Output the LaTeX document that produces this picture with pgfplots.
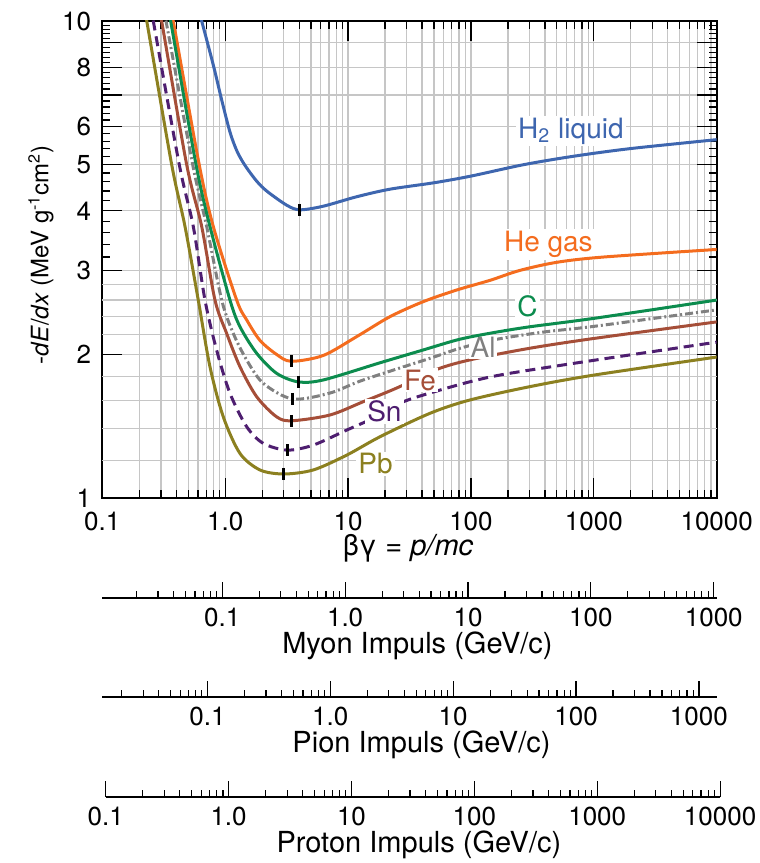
\documentclass[border=0pt]{standalone}
\usepackage{fontspec}
\setmainfont{TeX Gyre Heros}
\usepackage{pgfplots}
\pgfplotsset{compat=1.18}

\definecolor{hblue}{RGB}{62,102,175}
\definecolor{heorange}{RGB}{244,108,30}
\definecolor{cgreen}{RGB}{12,140,78}
\definecolor{algray}{RGB}{128,128,128}
\definecolor{febrown}{RGB}{165,78,56}
\definecolor{snpurple}{RGB}{78,30,112}
\definecolor{pbolive}{RGB}{140,128,32}
\definecolor{gridgray}{RGB}{198,198,198}

\newcommand{\tickfont}{\fontsize{13}{13}\selectfont}
\newcommand{\labfont}{\fontsize{14.5}{14.5}\selectfont}
\newcommand{\curvefont}{\fontsize{14}{14}\selectfont}

\tikzset{clabel/.style={anchor=base west, fill=white, inner sep=1pt, font=\curvefont}}
\pgfplotsset{
  logminor/.style={minor xtick={0.02,0.03,0.04,0.05,0.06,0.07,0.08,0.09,
     0.2,0.3,0.4,0.5,0.6,0.7,0.8,0.9,2,3,4,5,6,7,8,9,
     20,30,40,50,60,70,80,90,200,300,400,500,600,700,800,900,
     2000,3000,4000,5000,6000,7000,8000,9000}},
  curve/.style={line width=1.5pt, smooth},
}

\begin{document}
\begin{tikzpicture}
\begin{axis}[
  at={(0,0)}, anchor=south west,
  scale only axis, width=307.2pt, height=238.5pt,
  xmode=log, ymode=log,
  xmin=0.1, xmax=10000, ymin=1, ymax=10,
  xtick={0.1,1,10,100,1000,10000},
  xticklabels={0.1,1.0,10,100,1000,10000},
  logminor,
  ytick={1,2,3,4,5,6,7,8,9,10},
  yticklabels={1,2,3,4,5,6,,8,,10},
  minor ytick={1.2,1.4,1.6,1.8,2.2,2.4,2.6,2.8,3.2,3.4,3.6,3.8,4.2,4.4,4.6,4.8,
     5.2,5.4,5.6,5.8,6.2,6.4,6.6,6.8,7.2,7.4,7.6,7.8,8.2,8.4,8.6,8.8,9.2,9.4,9.6,9.8},
  extra y ticks={1.2,1.4,1.6,1.8,2.2,2.4,2.6,2.8},
  extra y tick labels={},
  extra y tick style={grid=major, major tick length=0pt},
  xmajorgrids, xminorgrids, ymajorgrids,
  major grid style={gridgray, line width=0.6pt},
  minor grid style={gridgray, line width=0.6pt},
  axis line style={black, line width=0.8pt},
  tick style={black, line width=0.6pt},
  major tick length=10pt, minor tick length=4pt,
  xticklabel style={font=\tickfont, anchor=center, yshift=-11.5pt},
  yticklabel style={font=\tickfont, xshift=-2.1pt},
  xlabel={βγ = \textit{p/mc}},
  ylabel={-\textit{dE}/\textit{dx} (MeV g\textsuperscript{-1}cm\textsuperscript{2})},
  xlabel style={font=\labfont, at={(axis description cs:0.4976,-0.1048)}, anchor=center},
  ylabel style={font=\fontsize{12}{12}\selectfont, at={(axis description cs:-0.0998,0.51)}, anchor=center},
]
% labels that sit beside their curves (curves drawn over them)
\node[clabel, text=hblue] at (axis cs:232,5.68) {H\textsubscript{2} liquid};
\node[clabel, text=heorange] at (axis cs:178,3.284) {He gas};
\node[clabel, text=cgreen] at (axis cs:228,2.399) {C};

% H2 liquid
\addplot[curve, hblue] coordinates {
 (0.62,10.4) (0.644,10) (0.8,8.09) (0.937,6.83) (1.094,5.85) (1.25,5.33) (1.45,4.98)
 (1.8,4.62) (2.18,4.40) (3.17,4.11) (4.05,4.02) (6.28,4.09) (11.7,4.28) (21.9,4.44)
 (50,4.58) (100,4.73) (250,4.98) (500,5.14) (1000,5.28) (2228,5.42) (10000,5.64)};
% He gas
\addplot[curve, heorange] coordinates {
 (0.36,10.6) (0.378,10) (0.61,5.05) (0.8,3.71) (1.24,2.6) (1.5,2.36) (1.92,2.14)
 (2.62,2.0) (3.45,1.935) (6.28,1.99) (11.7,2.178) (21.9,2.399) (40.9,2.58)
 (76.5,2.729) (143,2.86) (250,3.0) (500,3.12) (1191,3.2) (10000,3.32)};
% Al
\addplot[curve, algray, dash pattern=on 4pt off 1.5pt on 1pt off 1.5pt] coordinates {
 (0.315,10.6) (0.33,10) (0.544,5.0) (0.707,3.71) (0.937,2.6) (1.164,2.214)
 (1.496,1.947) (2.04,1.74) (3.54,1.613) (7.13,1.66) (13.3,1.768) (46.4,1.963)
 (81.3,2.06) (160,2.15) (400,2.23) (1000,2.29) (10000,2.48)};
% Fe
\addplot[curve, febrown] coordinates {
 (0.29,10.6) (0.304,10) (0.486,5.0) (0.644,3.71) (0.826,2.6) (1.028,2.214)
 (1.32,1.885) (1.804,1.631) (2.62,1.48) (3.48,1.452) (7.13,1.493) (13.3,1.592)
 (24.8,1.70) (52.6,1.86) (100,1.95) (300,2.06) (1000,2.16) (10000,2.34)};
% Sn
\addplot[curve, snpurple, dash pattern=on 5pt off 3pt] coordinates {
 (0.25,10.6) (0.26,10) (0.423,5.0) (0.55,3.71) (0.685,2.6) (0.853,2.04)
 (1.094,1.658) (1.496,1.411) (2.04,1.302) (3.2,1.26) (5.21,1.291) (9.75,1.388)
 (18,1.49) (28,1.59) (46.4,1.66) (100,1.755) (200,1.823) (1000,1.944) (10000,2.122)};
% Pb
\addplot[curve, pbolive] coordinates {
 (0.22,10.6) (0.23,10) (0.367,5.0) (0.471,3.71) (0.604,2.6) (0.752,1.885)
 (0.965,1.48) (1.32,1.24) (1.92,1.145) (3.0,1.123) (5.21,1.145) (9.75,1.23)
 (18.2,1.344) (46.4,1.505) (98,1.605) (302,1.712) (1000,1.81) (10000,1.975)};

% labels that break their curves
\node[clabel, text=algray] at (axis cs:95,1.972) {Al};
\node[clabel, text=febrown] at (axis cs:27.3,1.684) {Fe};
\node[clabel, text=snpurple] at (axis cs:13.7,1.446) {Sn};
\node[clabel, text=pbolive] at (axis cs:11.6,1.123) {Pb};

% C (drawn after the Al label, which sits just below it)
\addplot[curve, cgreen] coordinates {
 (0.345,10.6) (0.36,10) (0.579,5.0) (0.752,3.71) (1.094,2.6) (1.32,2.286)
 (1.804,2.011) (2.62,1.826) (3.93,1.752) (6.28,1.768) (18.2,1.921) (40,2.04)
 (80,2.15) (150,2.22) (300,2.285) (1000,2.38) (10000,2.6)};

% minima markers
\addplot[only marks, mark=|, mark size=3pt, mark options={black, line width=1.6pt}]
 coordinates {(4.05,4.02) (3.45,1.935) (3.93,1.752) (3.54,1.613) (3.48,1.452) (3.2,1.26) (3.0,1.123)};
\end{axis}

% momentum scales below
\begin{axis}[at={(0pt,-50pt)}, anchor=south west,
  scale only axis, width=307.2pt, height=1pt,
  xmode=log, xmin=0.010566, xmax=1056.6, ymin=0, ymax=1,
  axis x line*=bottom, axis y line=none,
  axis line style={-, black, line width=0.8pt},
  tick align=inside, major tick length=8pt, minor tick length=3.5pt,
  tick style={black, line width=0.6pt},
  xtick={0.1,1,10,100,1000}, xticklabels={0.1,1.0,10,100,1000}, logminor,
  xticklabel style={font=\tickfont, anchor=center, yshift=-9.5pt},
  xlabel={Myon Impuls (GeV/c)},
  xlabel style={font=\labfont, at={(axis description cs:0.5,0)}, anchor=center, yshift=-24pt, xshift=4pt}]
\addplot[draw=none] coordinates {(1,0.5)};
\end{axis}

\begin{axis}[at={(0pt,-99.5pt)}, anchor=south west,
  scale only axis, width=307.2pt, height=1pt,
  xmode=log, xmin=0.013957, xmax=1395.7, ymin=0, ymax=1,
  axis x line*=bottom, axis y line=none,
  axis line style={-, black, line width=0.8pt},
  tick align=inside, major tick length=8pt, minor tick length=3.5pt,
  tick style={black, line width=0.6pt},
  xtick={0.1,1,10,100,1000}, xticklabels={0.1,1.0,10,100,1000}, logminor,
  xticklabel style={font=\tickfont, anchor=center, yshift=-9.5pt},
  xlabel={Pion Impuls (GeV/c)},
  xlabel style={font=\labfont, at={(axis description cs:0.5,0)}, anchor=center, yshift=-24pt, xshift=6pt}]
\addplot[draw=none] coordinates {(1,0.5)};
\end{axis}

\begin{axis}[at={(1.7pt,-149.5pt)}, anchor=south west,
  scale only axis, width=307.2pt, height=1pt,
  xmode=log, xmin=0.1, xmax=10000, ymin=0, ymax=1,
  axis x line*=bottom, axis y line=none,
  axis line style={-, black, line width=0.8pt},
  tick align=inside, major tick length=8pt, minor tick length=3.5pt,
  tick style={black, line width=0.6pt},
  xtick={0.1,1,10,100,1000,10000}, xticklabels={0.1,1.0,10,100,1000,10000}, logminor,
  xticklabel style={font=\tickfont, anchor=center, yshift=-9.5pt},
  xlabel={Proton Impuls (GeV/c)},
  xlabel style={font=\labfont, at={(axis description cs:0.5,0)}, anchor=center, yshift=-24pt, xshift=3pt}]
\addplot[draw=none] coordinates {(1,0.5)};
\end{axis}

\pgfresetboundingbox
\path[use as bounding box] (-51.15pt,-182.5pt) rectangle (328.85pt,249pt);
\end{tikzpicture}
\end{document}
